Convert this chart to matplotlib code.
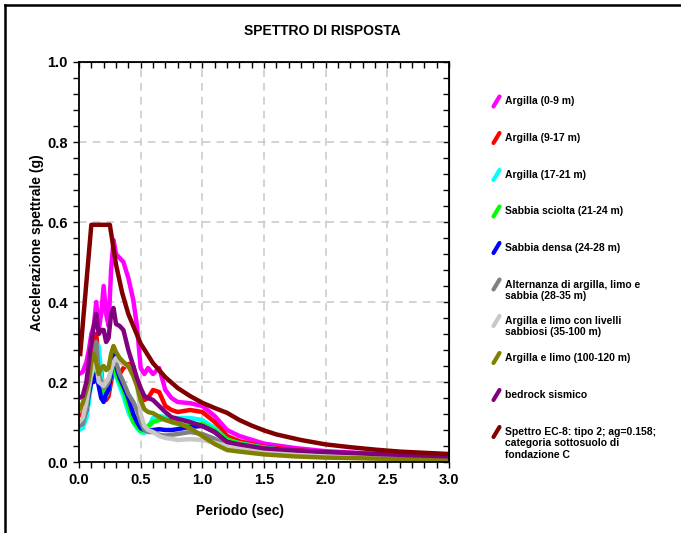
import matplotlib
matplotlib.use("Agg")
import matplotlib.pyplot as plt
from matplotlib.lines import Line2D
from matplotlib.ticker import MultipleLocator

plt.rcParams['font.family'] = ['Liberation Sans', 'DejaVu Sans']
plt.rcParams['font.weight'] = 'bold'

# periodo (sec) for the site spectra
periodo = [0.0, 0.03, 0.06, 0.08, 0.10, 0.12, 0.14, 0.16, 0.18, 0.20, 0.22, 0.24,
           0.26, 0.28, 0.30, 0.33, 0.36, 0.40, 0.44, 0.47, 0.50, 0.53, 0.56, 0.60,
           0.65, 0.70, 0.75, 0.80, 0.90, 1.00, 1.10, 1.20, 1.30, 1.50, 1.75, 2.00,
           2.50, 3.00]

argilla_0_9 = [0.22, 0.225, 0.25, 0.28, 0.32, 0.34, 0.40, 0.33, 0.37, 0.44, 0.37, 0.34,
               0.48, 0.555, 0.52, 0.51, 0.50, 0.46, 0.405, 0.34, 0.235, 0.22, 0.235, 0.22,
               0.235, 0.18, 0.16, 0.15, 0.147, 0.14, 0.115, 0.08, 0.065, 0.046, 0.035, 0.027,
               0.019, 0.014]
argilla_9_17 = [0.115, 0.12, 0.15, 0.19, 0.25, 0.30, 0.32, 0.25, 0.23, 0.16, 0.155, 0.165,
                0.20, 0.235, 0.24, 0.22, 0.235, 0.245, 0.24, 0.20, 0.165, 0.155, 0.16, 0.18,
                0.175, 0.14, 0.13, 0.125, 0.13, 0.125, 0.10, 0.065, 0.052, 0.038, 0.03, 0.023,
                0.016, 0.012]
argilla_17_21 = [0.08, 0.085, 0.11, 0.15, 0.20, 0.24, 0.28, 0.29, 0.22, 0.17, 0.165, 0.18,
                 0.22, 0.245, 0.215, 0.19, 0.165, 0.125, 0.10, 0.085, 0.075, 0.072, 0.085, 0.11,
                 0.115, 0.112, 0.11, 0.11, 0.11, 0.105, 0.085, 0.055, 0.047, 0.036, 0.027, 0.021,
                 0.014, 0.010]
sabbia_sciolta = [0.10, 0.105, 0.13, 0.17, 0.20, 0.23, 0.24, 0.21, 0.19, 0.175, 0.17, 0.19,
                  0.23, 0.255, 0.22, 0.20, 0.18, 0.14, 0.10, 0.09, 0.078, 0.08, 0.09, 0.10,
                  0.105, 0.108, 0.10, 0.095, 0.09, 0.095, 0.08, 0.057, 0.046, 0.035, 0.026, 0.02,
                  0.013, 0.010]
sabbia_densa = [0.10, 0.105, 0.13, 0.17, 0.20, 0.20, 0.22, 0.19, 0.16, 0.15, 0.17, 0.18,
                0.22, 0.27, 0.24, 0.21, 0.19, 0.16, 0.12, 0.10, 0.085, 0.08, 0.078, 0.08,
                0.082, 0.08, 0.08, 0.082, 0.088, 0.09, 0.075, 0.05, 0.042, 0.032, 0.024, 0.018,
                0.012, 0.009]
alternanza = [0.09, 0.095, 0.13, 0.18, 0.22, 0.26, 0.30, 0.22, 0.20, 0.185, 0.19, 0.20,
              0.23, 0.25, 0.25, 0.22, 0.20, 0.17, 0.15, 0.13, 0.10, 0.08, 0.075, 0.075,
              0.068, 0.066, 0.068, 0.07, 0.075, 0.07, 0.058, 0.04, 0.034, 0.025, 0.018, 0.013,
              0.009, 0.007]
argilla_limo_livelli = [0.10, 0.11, 0.15, 0.19, 0.22, 0.24, 0.25, 0.20, 0.195, 0.19, 0.20, 0.21,
                        0.23, 0.25, 0.26, 0.25, 0.245, 0.24, 0.23, 0.20, 0.12, 0.09, 0.08, 0.075,
                        0.065, 0.06, 0.058, 0.055, 0.057, 0.055, 0.048, 0.04, 0.034, 0.026, 0.019,
                        0.015, 0.010, 0.008]
argilla_limo = [0.13, 0.147, 0.18, 0.205, 0.25, 0.27, 0.25, 0.22, 0.235, 0.24, 0.23, 0.235,
                0.27, 0.29, 0.275, 0.26, 0.25, 0.24, 0.215, 0.19, 0.155, 0.132, 0.125, 0.122,
                0.113, 0.105, 0.10, 0.097, 0.085, 0.065, 0.045, 0.03, 0.026, 0.019, 0.014, 0.011,
                0.008, 0.006]
bedrock = [0.16, 0.165, 0.20, 0.25, 0.30, 0.34, 0.37, 0.32, 0.33, 0.33, 0.30, 0.31,
           0.37, 0.385, 0.345, 0.34, 0.33, 0.28, 0.24, 0.21, 0.185, 0.165, 0.16, 0.155,
           0.14, 0.125, 0.112, 0.108, 0.10, 0.09, 0.075, 0.05, 0.044, 0.034, 0.029, 0.025,
           0.019, 0.014]

# EC-8 design spectrum
periodo_ec8 = [0.01, 0.1, 0.25, 0.3, 0.35, 0.4, 0.5, 0.6, 0.7, 0.8, 0.9, 1.0, 1.1, 1.2,
               1.3, 1.4, 1.5, 1.6, 1.8, 2.0, 2.2, 2.4, 2.6, 2.8, 3.0]
spettro_ec8 = [0.27, 0.593, 0.593, 0.494, 0.423, 0.37, 0.296, 0.247, 0.212, 0.185, 0.165,
               0.148, 0.135, 0.123, 0.105, 0.091, 0.079, 0.069, 0.055, 0.044, 0.037, 0.031,
               0.026, 0.023, 0.020]

labels = [["Argilla (0-9 m)"],
          ["Argilla (9-17 m)"],
          ["Argilla (17-21 m)"],
          ["Sabbia sciolta (21-24 m)"],
          ["Sabbia densa (24-28 m)"],
          ["Alternanza di argilla, limo e", "sabbia (28-35 m)"],
          ["Argilla e limo con livelli", "sabbiosi (35-100 m)"],
          ["Argilla e limo (100-120 m)"],
          ["bedrock sismico"],
          ["Spettro EC-8: tipo 2; ag=0.158;", "categoria sottosuolo di", "fondazione C"]]
colors = ['#ff00ff', '#ff0000', '#00ffff', '#00ff00', '#0000ff',
          '#808080', '#c8c8c8', '#808000', '#800080', '#800000']
series = [argilla_0_9, argilla_9_17, argilla_17_21, sabbia_sciolta, sabbia_densa,
          alternanza, argilla_limo_livelli, argilla_limo, bedrock]

W, H = 681, 533
fig = plt.figure(figsize=(W / 100, H / 100), dpi=100)
ax = fig.add_axes([79 / W, 1 - 462 / H, 370 / W, 400 / H])

for s, c in zip(series, colors[:9]):
    ax.plot(periodo, s, color=c, lw=3.2, solid_joinstyle='round')
ax.plot(periodo_ec8, spettro_ec8, color=colors[9], lw=3.2, solid_joinstyle='round')

ax.set_xlim(0, 3)
ax.set_ylim(0, 1)
ax.xaxis.set_major_locator(MultipleLocator(0.5))
ax.xaxis.set_minor_locator(MultipleLocator(0.1))
ax.yaxis.set_major_locator(MultipleLocator(0.2))
ax.yaxis.set_minor_locator(MultipleLocator(0.04))
ax.xaxis.set_major_formatter(lambda v, p: f"{v:.1f}")
ax.yaxis.set_major_formatter(lambda v, p: f"{v:.1f}")
ax.grid(True, which='major', color='#c8c8c8', linestyle=(0, (5, 4)), lw=1.1)
ax.set_axisbelow(True)
ax.tick_params(which='both', direction='out', length=4, width=1, labelsize=10.5, pad=4)
for sp in ax.spines.values():
    sp.set_linewidth(1.3)

top = ax.secondary_xaxis('top')
top.xaxis.set_major_locator(MultipleLocator(0.5))
top.xaxis.set_minor_locator(MultipleLocator(0.1))
top.tick_params(which='both', direction='in', length=4, width=1, labeltop=False)
right = ax.secondary_yaxis('right')
right.yaxis.set_major_locator(MultipleLocator(0.2))
right.yaxis.set_minor_locator(MultipleLocator(0.04))
right.tick_params(which='both', direction='in', length=4, width=1, labelright=False)

fig.text(322 / W, 1 - 31 / H, "SPETTRO DI RISPOSTA", ha='center', va='center', fontsize=10)
fig.text(240 / W, 1 - 511 / H, "Periodo (sec)", ha='center', va='center', fontsize=10)
fig.text(37 / W, 1 - 243 / H, "Accelerazione spettrale (g)", ha='center', va='center',
         rotation=90, fontsize=10)

# legend, drawn by hand with slanted handles
legend_y = [101.5, 138, 175, 211.5, 248, 284.5, 321, 358, 395, 432]
for lines, c, y in zip(labels, colors, legend_y):
    fig.add_artist(Line2D([493.5 / W, 499.5 / W], [1 - (y + 5) / H, 1 - (y - 5) / H],
                          color=c, lw=3, solid_capstyle='round'))
    for k, t in enumerate(lines):
        fig.text(505 / W, 1 - (y + k * 11.3) / H, t, ha='left', va='center', fontsize=7.5)

# figure frame: only the left and top edges are visible
fig.add_artist(Line2D([5 / W, 5 / W], [0, 1 - 5 / H], color='black', lw=1.8))
fig.add_artist(Line2D([5 / W, 1], [1 - 5 / H, 1 - 5 / H], color='black', lw=1.8))

fig.savefig("out.png", dpi=100)
